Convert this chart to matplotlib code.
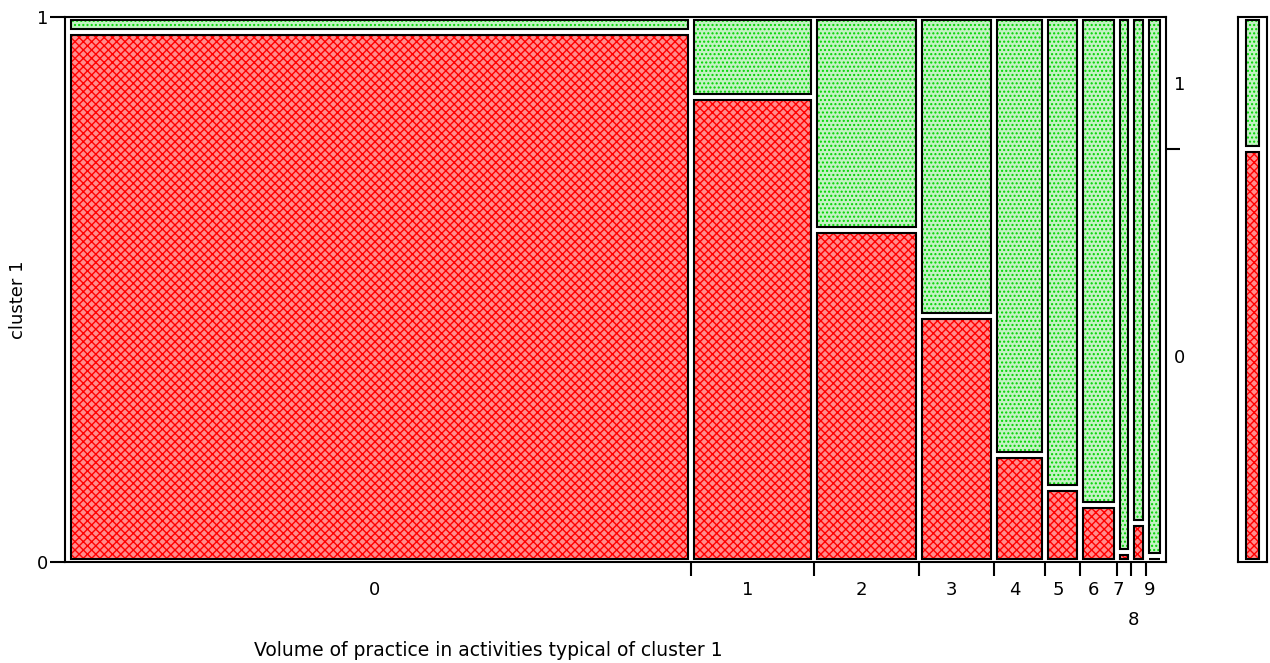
"""Mosaic plot of cluster 1 membership by volume of practice, with the marginal bar on the right."""

import matplotlib.pyplot as plt
import numpy as np
from matplotlib.patches import Rectangle
from matplotlib.transforms import offset_copy

plt.rcParams["font.family"] = ["DejaVu Sans"]
plt.rcParams["hatch.linewidth"] = 1.0

# volume levels and their share of the sample (column widths)
LEVELS = ["0", "1", "2", "3", "4", "5", "6", "7", "8", "9"]
LEVEL_SHARE = [0.569, 0.113, 0.096, 0.068, 0.047, 0.032, 0.033, 0.013, 0.014, 0.015]
# share of cluster 1 == 0 inside each level (lower, red part)
SHARE_0 = [0.973, 0.854, 0.610, 0.452, 0.197, 0.135, 0.104, 0.018, 0.072, 0.011]
# overall share of cluster 1 == 0
MARGIN_0 = 0.757

FILL = {
    "red": dict(facecolor="#ff8c8c", edgecolor="#ff0000", hatch="xxxx"),
    "green": dict(facecolor="#c4f2c4", edgecolor="#00d400", hatch="...."),
}

W, H = 1270, 663
FS = 13
fig = plt.figure(figsize=(W / 100, H / 100), dpi=100)

# main mosaic axes (pixel box 65..1166 x 17..562)
ax = fig.add_axes([65 / W, (H - 562) / H, (1166 - 65) / W, (562 - 17) / H])
span = 1095.0
ax.set_xlim(-2.5 / span, 1 + 3.5 / span)
ax.set_ylim(0, 1)
dx, dy = 3 / span, 3 / 545.0


def cell(axis, x0, y0, x1, y1, kind):
    axis.add_patch(Rectangle((x0, y0), x1 - x0, y1 - y0, linewidth=0, zorder=1, **FILL[kind]))
    axis.add_patch(Rectangle((x0, y0), x1 - x0, y1 - y0, fill=False,
                             edgecolor="black", linewidth=1.5, zorder=3))


edges = np.concatenate([[0], np.cumsum(LEVEL_SHARE)])
edges = edges / edges[-1]
for left, right, p0 in zip(edges[:-1], edges[1:], SHARE_0):
    cell(ax, left + dx, dy, right - dx, p0 - dy, "red")
    cell(ax, left + dx, p0 + dy, right - dx, 1 - dy, "green")

for sp in ax.spines.values():
    sp.set_linewidth(1.5)
ax.set_yticks([0, 1], labels=["0", "1"], fontsize=FS)
ax.tick_params(axis="y", length=11, width=1.5, pad=1)
ax.set_xticks(edges[1:-1], labels=[])
ax.tick_params(axis="x", length=10, width=1.5)

# level labels under the columns, "8" dropped to a second row
lab_tr = offset_copy(ax.get_xaxis_transform(), fig=fig, x=-5, y=0, units="dots")
centers = (edges[:-1] + edges[1:]) / 2
for name, cx in zip(LEVELS, centers):
    yy = -58 / 545 if name == "8" else -28 / 545
    ax.text(cx, yy, name, transform=lab_tr, ha="center", va="center", fontsize=FS)

# right axis: marginal split tick, level names at the middle of each part
ax_r = ax.twinx()
ax_r.set_ylim(0, 1)
ax_r.set_yticks([MARGIN_0], labels=[""])
ax_r.set_yticks([MARGIN_0 / 2, (1 + MARGIN_0) / 2], labels=["0", "1"], minor=True, fontsize=FS)
ax_r.tick_params(axis="y", which="major", length=10, width=1.5)
ax_r.tick_params(axis="y", which="minor", length=0, pad=6)
for sp in ax_r.spines.values():
    sp.set_visible(False)

# marginal bar
ax_m = fig.add_axes([1238 / W, (H - 562) / H, (1267 - 1238) / W, (562 - 17) / H])
ax_m.set_xlim(0, 1)
ax_m.set_ylim(0, 1)
cell(ax_m, 0.27, dy, 0.72, MARGIN_0 - dy, "red")
cell(ax_m, 0.27, MARGIN_0 + dy, 0.72, 1 - dy, "green")
ax_m.set_xticks([])
ax_m.set_yticks([])
for sp in ax_m.spines.values():
    sp.set_linewidth(1.5)

fig.text(18 / W, 1 - 300 / H, "cluster 1", rotation=90, ha="center", va="center", fontsize=FS)
fig.text(488 / W, 1 - 650 / H, "Volume of practice in activities typical of cluster 1",
         ha="center", va="center", fontsize=FS + 0.5)

fig.savefig("out.png", dpi=100)
